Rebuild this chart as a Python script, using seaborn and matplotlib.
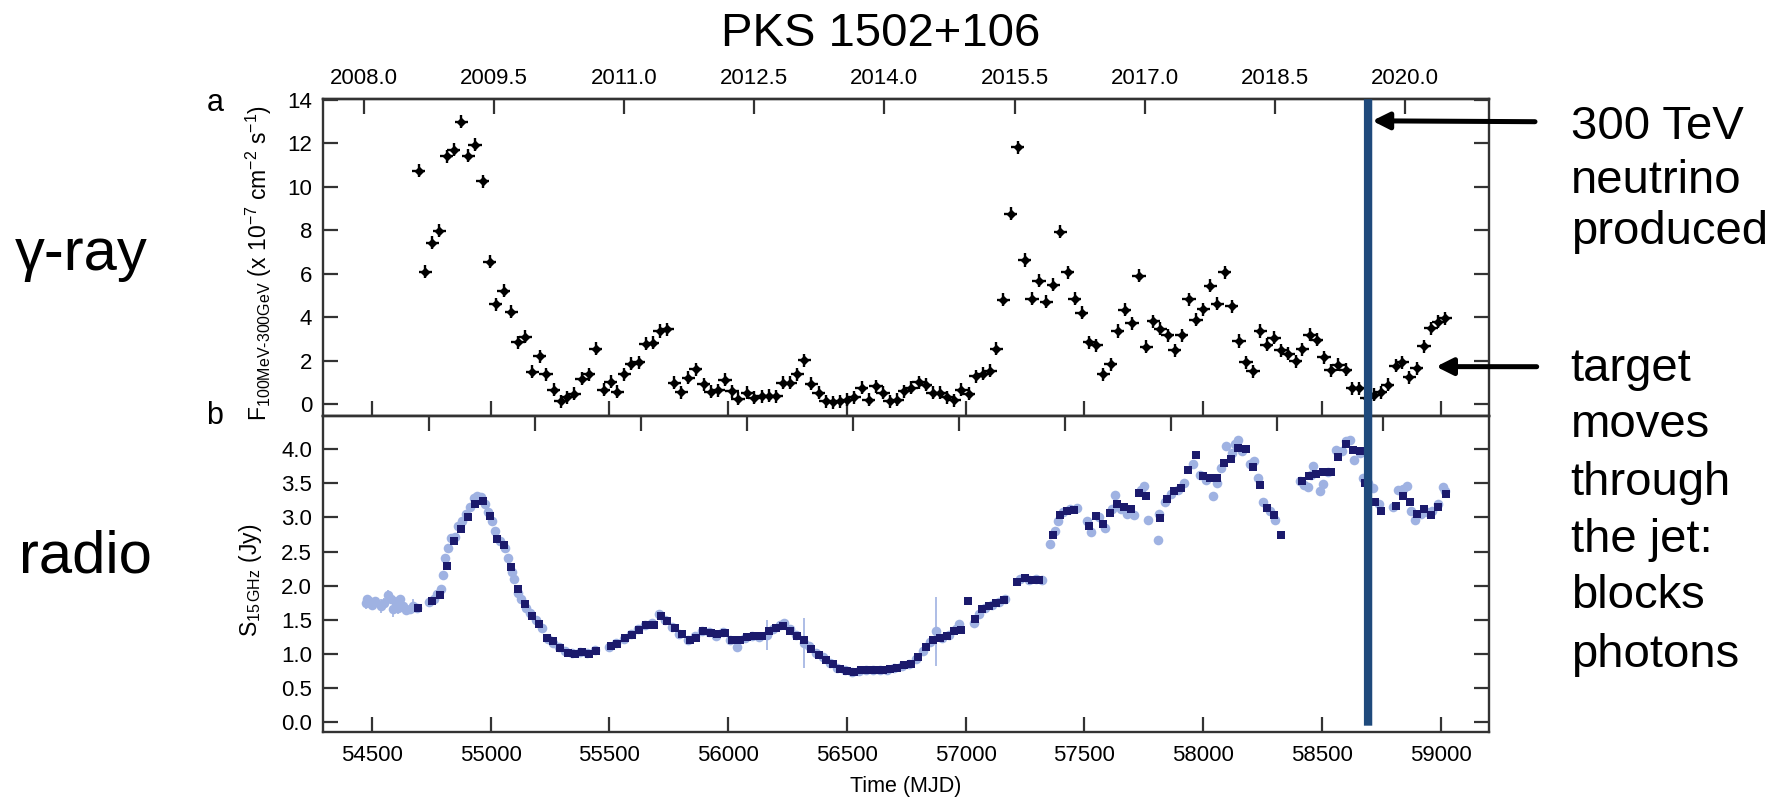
import matplotlib
matplotlib.use("Agg")
import matplotlib.pyplot as plt
import seaborn as sns
import pandas as pd
from matplotlib.patches import ConnectionPatch
from matplotlib.ticker import FormatStrFormatter

# ---------------- data ----------------
# Fermi-LAT 100 MeV - 300 GeV flux (1e-7 ph cm^-2 s^-1), ~monthly bins
gamma_mjd = [54697, 54725, 54755, 54785, 54815, 54845, 54877, 54907, 54935, 54967,
             54997, 55022, 55056, 55087, 55116, 55146, 55176, 55207, 55233, 55266,
             55296, 55323, 55353, 55383, 55413, 55443, 55476, 55506, 55533, 55563,
             55593, 55623, 55653, 55683, 55713, 55743, 55773, 55803, 55833, 55863,
             55897, 55928, 55957, 55987, 56017, 56042, 56081, 56111, 56141, 56171,
             56201, 56231, 56261, 56291, 56321, 56351, 56381, 56411, 56441, 56471,
             56502, 56532, 56562, 56592, 56622, 56652, 56682, 56712, 56742, 56772,
             56802, 56832, 56862, 56892, 56922, 56952, 56982, 57012, 57042, 57072,
             57102, 57129, 57159, 57189, 57219, 57249, 57279, 57309, 57339, 57369,
             57399, 57429, 57459, 57489, 57520, 57550, 57580, 57610, 57640, 57670,
             57700, 57730, 57760, 57790, 57820, 57850, 57880, 57910, 57940, 57970,
             58000, 58030, 58060, 58090, 58120, 58150, 58180, 58210, 58240, 58267,
             58298, 58326, 58358, 58389, 58417, 58449, 58478, 58508, 58537, 58569,
             58600, 58628, 58657, 58688, 58719, 58747, 58777, 58810, 58838, 58868,
             58899, 58930, 58959, 58990, 59018]
gamma_flux = [10.75, 6.1, 7.43, 7.97, 11.4, 11.7, 13.0, 11.43, 11.94, 10.26,
              6.56, 4.6, 5.22, 4.24, 2.85, 3.1, 1.48, 2.2, 1.37, 0.66,
              0.12, 0.32, 0.46, 1.16, 1.37, 2.54, 0.66, 1.02, 0.57, 1.36,
              1.86, 1.93, 2.77, 2.82, 3.36, 3.44, 0.97, 0.55, 1.2, 1.59,
              0.9, 0.56, 0.64, 1.12, 0.59, 0.25, 0.51, 0.28, 0.35, 0.39,
              0.35, 0.97, 0.97, 1.36, 2.02, 0.94, 0.51, 0.12, 0.08, 0.12,
              0.2, 0.32, 0.74, 0.2, 0.82, 0.51, 0.12, 0.2, 0.59, 0.74,
              1.0, 0.89, 0.51, 0.51, 0.32, 0.17, 0.66, 0.48, 1.28, 1.4,
              1.54, 2.54, 4.79, 8.75, 11.83, 6.63, 4.85, 5.67, 4.7, 5.49,
              7.94, 6.06, 4.85, 4.2, 2.85, 2.7, 1.36, 1.82, 3.36, 4.33,
              3.71, 5.9, 2.63, 3.82, 3.47, 3.16, 2.48, 3.16, 4.82, 3.87,
              4.36, 5.44, 4.62, 6.06, 4.51, 2.9, 1.93, 1.51, 3.36, 2.72,
              3.06, 2.47, 2.31, 1.96, 2.53, 3.18, 2.95, 2.16, 1.55, 1.8,
              1.58, 0.73, 0.73, 0.28, 0.43, 0.54, 0.89, 1.76, 1.91, 1.24,
              1.65, 2.65, 3.49, 3.79, 3.95]
gamma_xerr = 28     # days (half bin)
gamma_yerr = 0.3

# OVRO 15 GHz single measurements (light) and binned flux (dark), Jy
ovro_mjd = [54474, 54482, 54490, 54500, 54512, 54540, 54552, 54568, 54580, 54590,
            54600, 54610, 54620, 54632, 54645, 54660, 54672, 54690, 54740, 54760,
            54775, 54790, 54800, 54808, 54820, 54835, 54850, 54865, 54880, 54895,
            54915, 54930, 54945, 54960, 54975, 54990, 55005, 55020, 55040, 55060,
            55075, 55090, 55100, 55115, 55130, 55150, 55165, 55190, 55215, 55240,
            55265, 55290, 55315, 55345, 55375, 55405, 55440, 55500, 55530, 55560,
            55590, 55620, 55650, 55680, 55710, 55735, 55765, 55795, 55830, 55860,
            55890, 55920, 55950, 55980, 56010, 56039, 56070, 56100, 56130, 56164,
            56190, 56220, 56235, 56260, 56285, 56318, 56340, 56370, 56400, 56430,
            56460, 56490, 56520, 56550, 56580, 56610, 56640, 56670, 56700, 56730,
            56760, 56790, 56820, 56850, 56876, 56900, 56930, 56960, 56974, 57034,
            57055, 57080, 57110, 57140, 57165, 57230, 57265, 57295, 57320, 57356,
            57375, 57390, 57410, 57440, 57470, 57512, 57529, 57560, 57585, 57615,
            57627, 57655, 57680, 57709, 57740, 57751, 57769, 57810, 57815, 57840,
            57865, 57895, 57920, 57955, 57985, 58010, 58042, 58060, 58075, 58098,
            58120, 58135, 58147, 58165, 58195, 58213, 58232, 58253, 58280, 58302,
            58407, 58425, 58442, 58455, 58463, 58492, 58503, 58525, 58559, 58585,
            58600, 58618, 58635, 58660, 58674, 58695, 58713, 58740, 58800, 58820,
            58840, 58857, 58874, 58892, 58915, 58940, 58965, 58990, 59008, 59018]
ovro_flux = [1.74, 1.80, 1.78, 1.72, 1.77, 1.70, 1.74, 1.86, 1.80, 1.66,
             1.75, 1.68, 1.80, 1.70, 1.64, 1.66, 1.70, 1.68, 1.76, 1.80,
             1.88, 1.95, 2.15, 2.40, 2.55, 2.70, 2.72, 2.88, 2.95, 3.05,
             3.15, 3.28, 3.32, 3.30, 3.20, 3.08, 2.95, 2.80, 2.65, 2.55,
             2.40, 2.20, 2.10, 1.90, 1.80, 1.68, 1.60, 1.50, 1.38, 1.22,
             1.16, 1.10, 1.05, 1.02, 1.03, 1.02, 1.06, 1.10, 1.16, 1.22,
             1.30, 1.36, 1.42, 1.46, 1.58, 1.50, 1.40, 1.30, 1.20, 1.26,
             1.34, 1.32, 1.26, 1.32, 1.20, 1.10, 1.24, 1.27, 1.25, 1.28,
             1.36, 1.42, 1.45, 1.36, 1.28, 1.16, 1.12, 1.02, 0.95, 0.87,
             0.80, 0.76, 0.74, 0.75, 0.77, 0.76, 0.77, 0.77, 0.79, 0.82,
             0.86, 0.92, 1.05, 1.18, 1.33, 1.24, 1.28, 1.36, 1.44, 1.45,
             1.58, 1.68, 1.72, 1.76, 1.80, 2.10, 2.08, 2.10, 2.08, 2.61,
             2.80, 2.95, 3.08, 3.12, 3.14, 2.95, 2.79, 3.00, 2.85, 3.12,
             3.33, 3.12, 3.05, 3.04, 3.40, 3.46, 2.96, 2.67, 3.05, 3.22,
             3.35, 3.40, 3.50, 3.78, 3.62, 3.55, 3.32, 3.50, 3.72, 4.04,
             3.95, 4.08, 4.13, 3.98, 3.78, 3.82, 3.58, 3.22, 3.10, 2.96,
             3.54, 3.48, 3.44, 3.62, 3.76, 3.38, 3.49, 3.66, 3.99, 3.98,
             4.12, 4.13, 3.84, 3.95, 3.58, 3.50, 3.43, 3.20, 3.15, 3.40,
             3.42, 3.46, 3.09, 2.96, 3.05, 3.08, 3.10, 3.20, 3.45, 3.38]
ovro_err = [0.08, 0.07, 0.06, 0.07, 0.05, 0.10, 0.08, 0.07, 0.06, 0.12,
            0.08, 0.10, 0.07, 0.06, 0.06, 0.05, 0.10, 0.05, 0.04, 0.04,
            0.03, 0.04, 0.04, 0.04, 0.04, 0.03, 0.03, 0.03, 0.03, 0.03,
            0.03, 0.03, 0.03, 0.03, 0.03, 0.03, 0.03, 0.03, 0.03, 0.03,
            0.03, 0.03, 0.03, 0.03, 0.03, 0.03, 0.03, 0.03, 0.03, 0.03,
            0.03, 0.03, 0.03, 0.03, 0.03, 0.03, 0.03, 0.03, 0.03, 0.03,
            0.03, 0.03, 0.03, 0.03, 0.03, 0.03, 0.03, 0.03, 0.03, 0.03,
            0.03, 0.03, 0.03, 0.03, 0.03, 0.03, 0.03, 0.03, 0.03, 0.22,
            0.03, 0.03, 0.03, 0.03, 0.03, 0.37, 0.03, 0.03, 0.03, 0.03,
            0.03, 0.03, 0.03, 0.03, 0.03, 0.03, 0.03, 0.03, 0.03, 0.03,
            0.03, 0.03, 0.03, 0.03, 0.50, 0.03, 0.03, 0.03, 0.03, 0.03,
            0.03, 0.03, 0.03, 0.03, 0.03, 0.03, 0.05, 0.06, 0.05, 0.03,
            0.03, 0.03, 0.03, 0.03, 0.03, 0.03, 0.03, 0.03, 0.03, 0.03,
            0.03, 0.03, 0.03, 0.08, 0.03, 0.03, 0.03, 0.06, 0.03, 0.03,
            0.03, 0.03, 0.03, 0.03, 0.03, 0.03, 0.03, 0.03, 0.03, 0.03,
            0.03, 0.05, 0.05, 0.03, 0.03, 0.03, 0.03, 0.03, 0.03, 0.03,
            0.03, 0.03, 0.03, 0.05, 0.05, 0.06, 0.03, 0.03, 0.03, 0.03,
            0.05, 0.03, 0.03, 0.03, 0.03, 0.03, 0.03, 0.03, 0.04, 0.03,
            0.03, 0.03, 0.03, 0.04, 0.03, 0.03, 0.03, 0.03, 0.03, 0.03]

binned_mjd = [54695, 54755, 54787, 54815, 54847, 54877, 54904, 54934, 54967, 54997,
              55027, 55057, 55086, 55114, 55144, 55176, 55206, 55236, 55264, 55294,
              55326, 55356, 55386, 55416, 55444, 55508, 55533, 55566, 55595, 55626,
              55656, 55686, 55718, 55743, 55775, 55806, 55838, 55865, 55895, 55926,
              55955, 55985, 56018, 56048, 56078, 56111, 56141, 56171, 56201, 56231,
              56261, 56291, 56321, 56351, 56381, 56411, 56441, 56471, 56501, 56531,
              56561, 56591, 56621, 56651, 56681, 56711, 56741, 56771, 56801, 56831,
              56861, 56891, 56921, 56951, 56981, 57008, 57038, 57068, 57098, 57128,
              57161, 57218, 57248, 57278, 57308, 57368, 57398, 57428, 57458, 57518,
              57548, 57578, 57608, 57638, 57668, 57698, 57728, 57758, 57818, 57848,
              57878, 57908, 57938, 57968, 57998, 58028, 58058, 58088, 58118, 58148,
              58178, 58208, 58239, 58267, 58298, 58327, 58414, 58445, 58475, 58506,
              58538, 58569, 58600, 58629, 58660, 58681, 58723, 58749, 58810, 58843,
              58871, 58899, 58930, 58959, 58990, 59021]
binned_flux = [1.68, 1.78, 1.87, 2.29, 2.65, 2.83, 3.0, 3.19, 3.24, 3.02,
               2.68, 2.6, 2.28, 1.95, 1.73, 1.56, 1.44, 1.24, 1.19, 1.09,
               1.02, 1.0, 1.03, 1.0, 1.05, 1.12, 1.14, 1.24, 1.28, 1.35,
               1.43, 1.43, 1.55, 1.48, 1.38, 1.29, 1.21, 1.24, 1.33, 1.31,
               1.29, 1.31, 1.21, 1.2, 1.25, 1.26, 1.26, 1.34, 1.38, 1.41,
               1.34, 1.26, 1.21, 1.08, 0.99, 0.91, 0.85, 0.78, 0.75, 0.73,
               0.76, 0.76, 0.77, 0.76, 0.78, 0.79, 0.84, 0.86, 0.96, 1.1,
               1.21, 1.23, 1.26, 1.33, 1.35, 1.78, 1.51, 1.66, 1.7, 1.74,
               1.79, 2.05, 2.12, 2.08, 2.08, 2.74, 3.04, 3.09, 3.11, 2.88,
               3.02, 2.91, 3.06, 3.2, 3.16, 3.12, 3.36, 3.32, 2.99, 3.27,
               3.38, 3.43, 3.7, 3.92, 3.61, 3.58, 3.58, 3.8, 3.85, 4.01,
               4.0, 3.74, 3.48, 3.14, 3.04, 2.75, 3.53, 3.6, 3.64, 3.66,
               3.67, 3.89, 4.07, 3.99, 3.98, 3.51, 3.23, 3.1, 3.17, 3.32,
               3.23, 3.05, 3.12, 3.04, 3.15, 3.34]

neutrino_mjd = 58694          # IceCube-190730A
mjd_ticks = [54500, 55000, 55500, 56000, 56500, 57000, 57500, 58000, 58500, 59000]
year_ticks = [2008.0, 2009.5, 2011.0, 2012.5, 2014.0, 2015.5, 2017.0, 2018.5, 2020.0]
radio_top_ticks = [54742, 55188, 55634, 56080, 56526, 56972, 57418, 57864, 58310, 58756]
gamma_yticks = [0, 2, 4, 6, 8, 10, 12, 14]
radio_yticks = [0.0, 0.5, 1.0, 1.5, 2.0, 2.5, 3.0, 3.5, 4.0]

# ---------------- style ----------------
sns.set_theme(style="ticks")
plt.rcParams["font.family"] = ["Liberation Sans", "DejaVu Sans"]
plt.rcParams["mathtext.fontset"] = "custom"
plt.rcParams["mathtext.rm"] = "Liberation Sans"
plt.rcParams["mathtext.it"] = "Liberation Sans:italic"
plt.rcParams["mathtext.bf"] = "Liberation Sans:bold"
plt.rcParams["mathtext.sf"] = "Liberation Sans"
plt.rcParams["text.color"] = "black"
plt.rcParams["axes.labelcolor"] = "black"

LIGHT = "#9fb2e2"
DARK = "#1b1a6c"
EVENT = "#1f4a7c"
SPINE = "#333333"
TICKFS = 16

W, H = 1785, 802
fig = plt.figure(figsize=(W / 100, H / 100), dpi=100)


def px_box(x0, y0, x1, y1):
    return [x0 / W, 1 - y1 / H, (x1 - x0) / W, (y1 - y0) / H]


ax1 = fig.add_axes(px_box(323.3, 99.3, 1489, 415.7))
ax2 = fig.add_axes(px_box(323.3, 415.7, 1489, 732.3), sharex=ax1)

# gamma-ray light curve
gam = pd.DataFrame({"mjd": gamma_mjd, "flux": gamma_flux})
ax1.errorbar(gam["mjd"], gam["flux"], xerr=gamma_xerr, yerr=gamma_yerr, fmt="none",
             ecolor="black", elinewidth=1.7, capsize=0, zorder=2)
sns.scatterplot(data=gam, x="mjd", y="flux", ax=ax1, marker="D", s=26,
                color="black", linewidth=0, zorder=3)

# radio light curve
ovro = pd.DataFrame({"mjd": ovro_mjd, "flux": ovro_flux, "err": ovro_err})
binned = pd.DataFrame({"mjd": binned_mjd, "flux": binned_flux})
ax2.errorbar(ovro["mjd"], ovro["flux"], yerr=ovro["err"], fmt="none",
             ecolor=LIGHT, elinewidth=1.2, capsize=0, zorder=1)
sns.scatterplot(data=ovro, x="mjd", y="flux", ax=ax2, marker="o", s=48,
                color=LIGHT, linewidth=0, zorder=2)
sns.scatterplot(data=binned, x="mjd", y="flux", ax=ax2, marker="s", s=38,
                color=DARK, linewidth=0, zorder=3)

# axes limits, ticks, spines
ax1.set_xlim(54296, 59203)
ax1.set_ylim(-0.54, 14.03)
ax2.set_ylim(-0.147, 4.49)
ax1.set_xticks(mjd_ticks)
ax1.set_yticks(gamma_yticks)
ax2.set_yticks(radio_yticks)
ax2.yaxis.set_major_formatter(FormatStrFormatter("%.1f"))

tick_kw = dict(direction="in", length=10.8, width=1.6, color=SPINE,
               labelcolor="black", labelsize=TICKFS)
for ax in (ax1, ax2):
    ax.set_xlabel("")
    ax.set_ylabel("")
    ax.tick_params(axis="y", left=True, right=True, labelright=False, pad=8, **tick_kw)
    ax.tick_params(axis="x", bottom=True, top=False, pad=9.5, **tick_kw)
    for sp in ax.spines.values():
        sp.set_visible(True)
        sp.set_linewidth(1.7)
        sp.set_color(SPINE)
ax1.tick_params(axis="x", labelbottom=False)


def mjd_to_year(m):
    return 2000.0 + (m - 51544.5) / 365.25


def year_to_mjd(y):
    return 51544.5 + (y - 2000.0) * 365.25


yr = ax1.secondary_xaxis("top", functions=(mjd_to_year, year_to_mjd))
yr.set_xticks(year_ticks)
yr.set_xticklabels([f"{y:.1f}" for y in year_ticks])
yr.tick_params(pad=7.5, **tick_kw)
yr.spines["top"].set_linewidth(1.7)
yr.spines["top"].set_color(SPINE)

top2 = ax2.secondary_xaxis("top", functions=(lambda m: m, lambda m: m))
top2.set_xticks(radio_top_ticks)
top2.tick_params(labeltop=False, **tick_kw)
top2.spines["top"].set_linewidth(1.7)
top2.spines["top"].set_color(SPINE)

# axis labels and panel letters
fig.text(259 / W, 1 - 263 / H,
         r"F$_{\mathrm{100MeV\text{-}300GeV}}$ (x 10$^{-7}$ cm$^{-2}$ s$^{-1}$)",
         rotation=90, ha="center", va="center", fontsize=16.5)
fig.text(250 / W, 1 - 580 / H, r"S$_{\mathrm{15\,GHz}}$ (Jy)",
         rotation=90, ha="center", va="center", fontsize=16.5)
ax2.set_xlabel("Time (MJD)", fontsize=15.5, labelpad=7)
fig.text(215 / W, 1 - 103 / H, "a", ha="center", va="center", fontsize=22)
fig.text(215 / W, 1 - 416 / H, "b", ha="center", va="center", fontsize=22)

fig.text(881 / W, 1 - 34 / H, "PKS 1502+106", ha="center", va="center", fontsize=34)
fig.text(81 / W, 1 - 255 / H, "γ-ray", ha="center", va="center", fontsize=43)
fig.text(85 / W, 1 - 557 / H, "radio", ha="center", va="center", fontsize=43)

# neutrino arrival time marker spanning both panels
con = ConnectionPatch(xyA=(neutrino_mjd, 14.03), coordsA=ax1.transData,
                      xyB=(neutrino_mjd, -0.05), coordsB=ax2.transData,
                      color=EVENT, linewidth=6, capstyle="butt", zorder=10)
fig.add_artist(con)

# annotations on the right
arrow_kw = dict(arrowstyle="-|>,head_length=10,head_width=5", lw=3.6, color="black",
                mutation_scale=1, shrinkA=0)
ax1.annotate("", xy=(neutrino_mjd, 13.04), xycoords="data",
             xytext=(1535, H - 121.7), textcoords="figure pixels",
             arrowprops=dict(shrinkB=3, **arrow_kw), annotation_clip=False)
ax1.annotate("", xy=(58980, 1.72), xycoords="data",
             xytext=(1536.7, H - 366.7), textcoords="figure pixels",
             arrowprops=dict(shrinkB=0, **arrow_kw), annotation_clip=False)

for line, base in zip(["300 TeV", "neutrino", "produced"], [139, 192.7, 244.3]):
    fig.text(1570.7 / W, 1 - base / H, line, ha="left", va="baseline", fontsize=34)
for line, base in zip(["target", "moves", "through", "the jet:", "blocks", "photons"],
                      [381, 436.7, 495, 551.7, 608.3, 666.7]):
    fig.text(1570.7 / W, 1 - base / H, line, ha="left", va="baseline", fontsize=34)

fig.savefig("out.png", dpi=100)
